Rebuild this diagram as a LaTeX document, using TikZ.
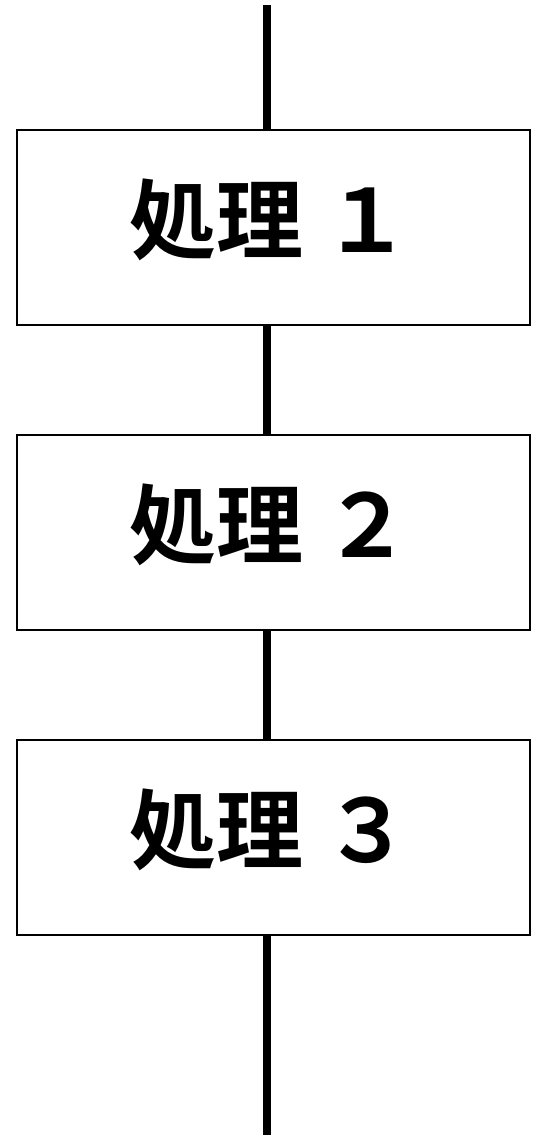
\documentclass[tikz,border=0pt]{standalone}
\usepackage{fontspec}
\newfontfamily\jpfont{Noto Sans CJK JP}[BoldFont={* Bold}]
\begin{document}
\begin{tikzpicture}[x=1pt,y=-1pt,
  procbox/.style={draw=black,line width=2.5pt,fill=white,minimum width=513pt,minimum height=195pt,inner sep=0pt},
  proclabel/.style={font=\jpfont\bfseries\fontsize{87}{91}\selectfont,inner sep=0pt},
  conn/.style={line width=8pt}]
\useasboundingbox (0,0) rectangle (539,1138);
\coordinate (top) at (267,5);
\coordinate (bot) at (267,1135);
\node[procbox] (b1) at (273.5,227.5) {};
\node[procbox] (b2) at (273.5,532.5) {};
\node[procbox] (b3) at (273.5,837.5) {};
\node[proclabel] (t1) at (270,220) {処理 １};
\node[proclabel] (t2) at (270,525) {処理 ２};
\node[proclabel] (t3) at (270,830) {処理 ３};
\draw[conn] (top) -- (b1.north -| top);
\draw[conn] (b1.south -| top) -- (b2.north -| top);
\draw[conn] (b2.south -| top) -- (b3.north -| top);
\draw[conn] (b3.south -| top) -- (bot);
\end{tikzpicture}
\end{document}
